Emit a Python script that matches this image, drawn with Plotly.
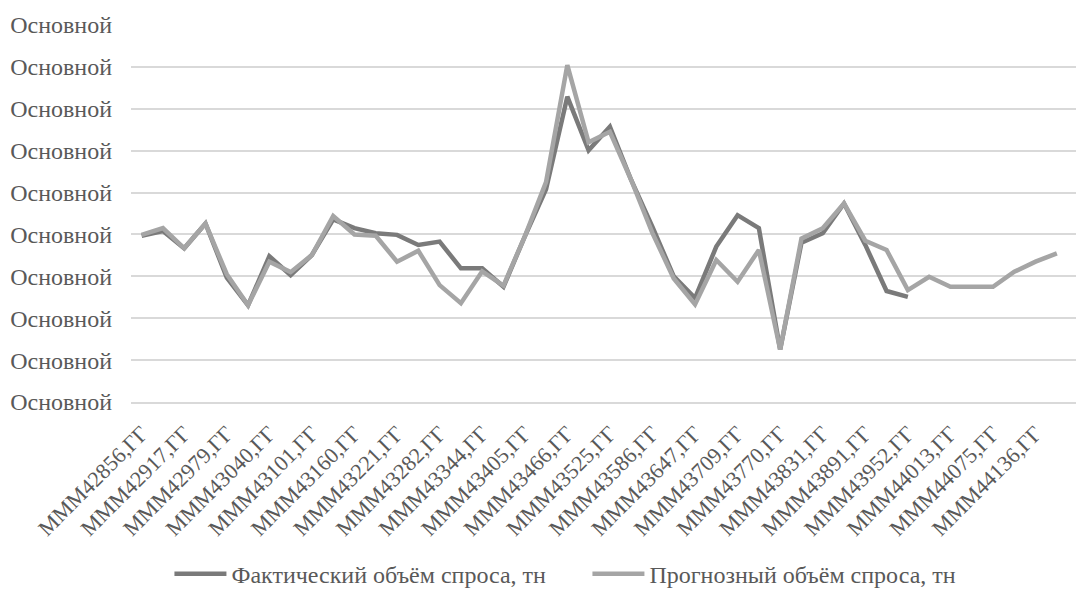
import plotly.graph_objects as go

serials = [42856, 42887, 42917, 42948, 42979, 43009, 43040, 43070, 43101, 43132,
           43160, 43191, 43221, 43252, 43282, 43313, 43344, 43374, 43405, 43435,
           43466, 43497, 43525, 43556, 43586, 43617, 43647, 43678, 43709, 43739,
           43770, 43800, 43831, 43862, 43891, 43922, 43952, 43983, 44013, 44044,
           44075, 44105, 44136, 44166]
categories = ["MMM%d,ГГ" % s for s in serials]

actual = [3.97, 4.08, 3.67, 4.26, 2.97, 2.31, 3.48, 3.03, 3.51, 4.36,
          4.15, 4.03, 3.99, 3.75, 3.83, 3.19, 3.19, 2.75, 3.95, 5.08,
          7.29, 6.01, 6.57, 5.30, 4.18, 3.00, 2.48, 3.71, 4.46, 4.15,
          1.25, 3.80, 4.03, 4.74, 3.75, 2.65, 2.51]
forecast = [3.99, 4.15, 3.67, 4.26, 3.05, 2.31, 3.35, 3.10, 3.51, 4.44,
            4.00, 3.97, 3.35, 3.61, 2.79, 2.36, 3.12, 2.78, 3.95, 5.25,
            8.04, 6.20, 6.45, 5.30, 4.03, 2.95, 2.33, 3.39, 2.87, 3.63,
            1.25, 3.90, 4.15, 4.74, 3.85, 3.63, 2.67, 2.99, 2.75, 2.75,
            2.75, 3.11, 3.35, 3.55]

series_names = ["Фактический объём спроса, тн", "Прогнозный объём спроса, тн"]
series_colors = ["#7a7a7a", "#a5a5a5"]
ytick_vals = list(range(10))
ytick_text = ["Основной"] * 10

FONT = "Liberation Serif, Times New Roman, serif"
TXT = "#595959"
GRID = "#d9d9d9"

fig = go.Figure()
fig.add_trace(go.Scatter(x=categories[:len(actual)], y=actual, mode="lines",
                         name=series_names[0],
                         line=dict(color=series_colors[0], width=4.5)))
fig.add_trace(go.Scatter(x=categories, y=forecast, mode="lines",
                         name=series_names[1],
                         line=dict(color=series_colors[1], width=4.5)))

fig.update_layout(
    width=1076, height=592,
    margin=dict(l=131, r=0, t=25, b=190, autoexpand=False),
    paper_bgcolor="white", plot_bgcolor="white",
    font=dict(family=FONT, size=24, color=TXT),
    showlegend=True,
    legend=dict(orientation="h", x=0.483, xanchor="center",
                yref="container", y=0.03, yanchor="middle",
                font=dict(family=FONT, size=24, color=TXT),
                itemwidth=52, entrywidth=351, bgcolor="rgba(0,0,0,0)"),
)
fig.update_xaxes(type="category", categoryorder="array", categoryarray=categories,
                 range=[-0.5, 43.9], showgrid=False, zeroline=False,
                 showline=True, linecolor=GRID, linewidth=1.5, automargin=False,
                 tickmode="array", tickvals=categories[::2], ticktext=categories[::2],
                 tickangle=-45, ticks="", ticklabelstandoff=8,
                 tickfont=dict(family=FONT, size=22, color=TXT))
fig.update_yaxes(range=[0, 9], tickmode="array", tickvals=ytick_vals, ticktext=ytick_text,
                 showgrid=True, gridcolor=GRID, gridwidth=1.5, zeroline=False,
                 showline=False, ticks="", ticklabelstandoff=18, automargin=False,
                 tickfont=dict(family=FONT, size=24, color=TXT))

fig.write_html("out.html")
